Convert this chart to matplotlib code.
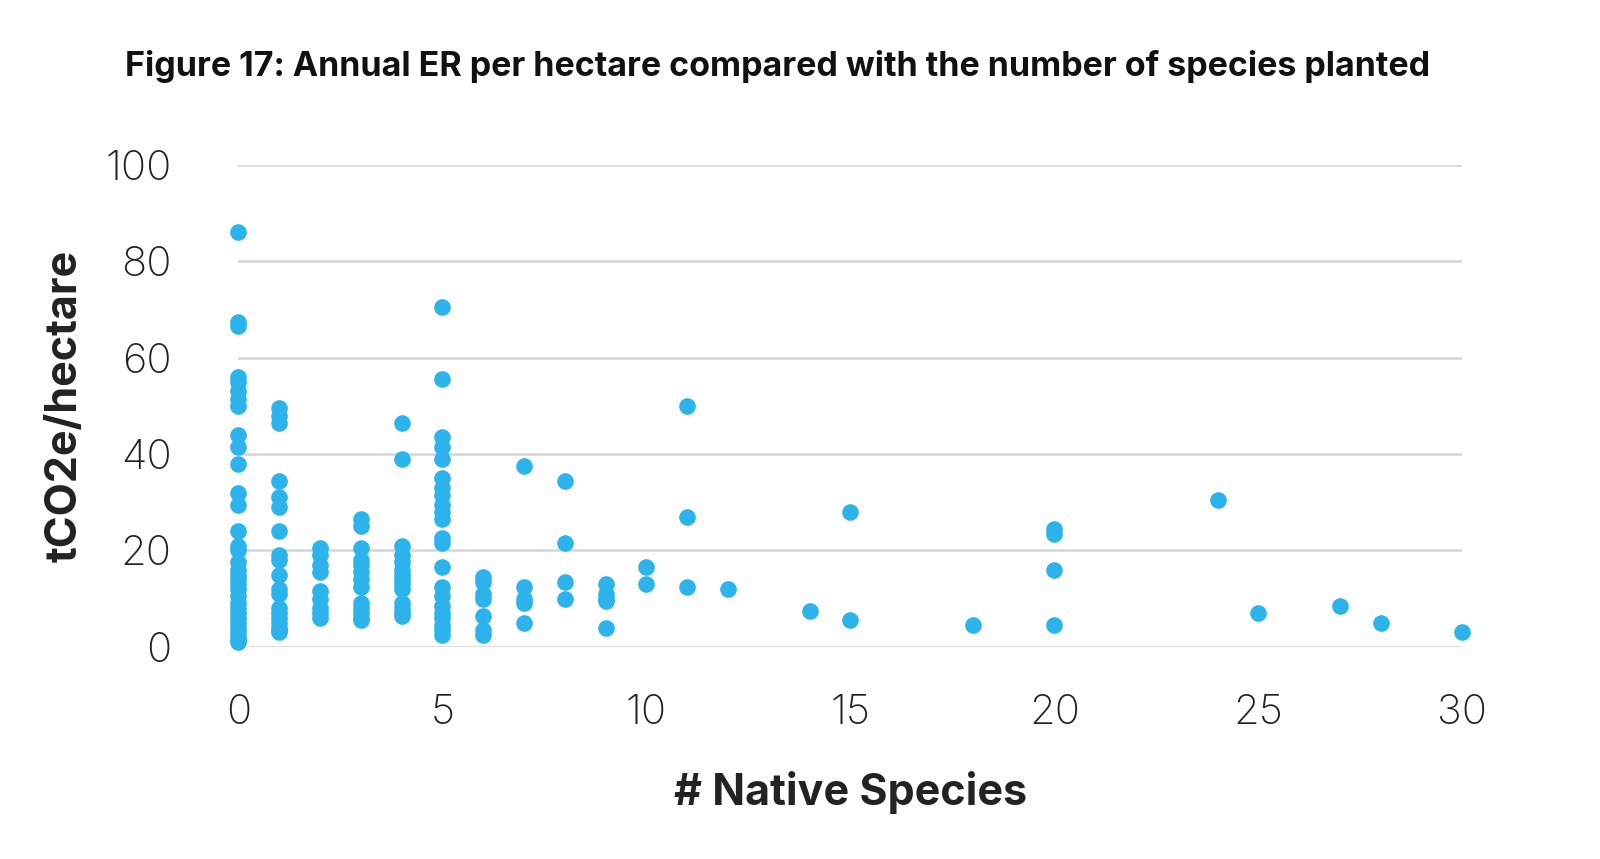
import numpy as np
import matplotlib.pyplot as plt

# points grouped by number of native species
er_by_species = {
    0: [86, 67.5, 66.5, 56, 55, 53, 51.5, 50, 44, 41.5, 38, 32, 29.5, 24, 21, 20,
        17.5, 16, 15, 14, 13, 12, 10.5, 9, 8, 7, 6, 5, 4, 3, 2, 1.5, 1],
    1: [49.5, 48, 46.5, 34.5, 31, 29, 24, 19, 18, 15, 12, 11, 8, 7, 6, 5, 4, 3.5, 3],
    2: [20.5, 19, 17, 15.5, 11.5, 10, 8, 7, 6],
    3: [26.5, 25, 20.5, 18, 17, 15.5, 14, 12.5, 9, 8, 7, 6, 5.5],
    4: [46.5, 39, 21, 19, 17.5, 16, 15, 14, 13, 12, 9, 8, 7, 6.5],
    5: [70.5, 55.5, 43.5, 41.5, 39, 35, 33, 31.5, 29.5, 28, 26.5, 22.5, 21.5, 16.5,
        12.5, 10.5, 8.5, 7, 6, 4.5, 3.5, 2.5],
    6: [14.5, 13.5, 11, 10, 6.5, 3.5, 2.5],
    7: [37.5, 12.5, 10, 9, 5],
    8: [34.5, 21.5, 13.5, 10],
    9: [13, 11, 10, 9.5, 4],
    10: [16.5, 13],
    11: [50, 27, 12.5],
    12: [12],
    14: [7.5],
    15: [28, 5.5],
    18: [4.5],
    20: [24.5, 23.5, 16, 4.5],
    24: [30.5],
    25: [7],
    27: [8.5],
    28: [5],
    30: [3],
}

x = []
y = []
for k, vals in er_by_species.items():
    x += [k] * len(vals)
    y += vals

fig = plt.figure(figsize=(16, 8.59), dpi=100)
ax = fig.add_axes([0.149, 0.247, 0.765, 0.561])
ax.scatter(x, y, s=120, color='#2db3ec', zorder=3, clip_on=False)

ax.set_xlim(0, 30)
ax.set_ylim(0, 100)
ax.set_xticks([0, 5, 10, 15, 20, 25, 30])
ax.set_yticks([0, 20, 40, 60, 80, 100])
ax.grid(axis='y', color='#d9d9d9', linewidth=2)
ax.set_axisbelow(True)
for s in ax.spines.values():
    s.set_visible(False)
ax.tick_params(length=0, labelsize=30, labelcolor='#222222')
for lab in ax.get_xticklabels() + ax.get_yticklabels():
    lab.set_family('Inter')
    lab.set_fontweight('light')
ax.tick_params(axis='x', pad=34)
ax.tick_params(axis='y', pad=48)

ax.set_xlabel('# Native Species', fontsize=31, fontweight='bold', family='Inter',
              color='#222222', labelpad=28)
ax.set_ylabel('tCO2e/hectare', fontsize=31, fontweight='bold', family='Inter',
              color='#222222', labelpad=14)
fig.text(0.078, 0.912, 'Figure 17: Annual ER per hectare compared with the number of species planted',
         fontsize=24.5, fontweight='bold', family='Inter', color='#111111')

fig.savefig('out.png', facecolor='white')
